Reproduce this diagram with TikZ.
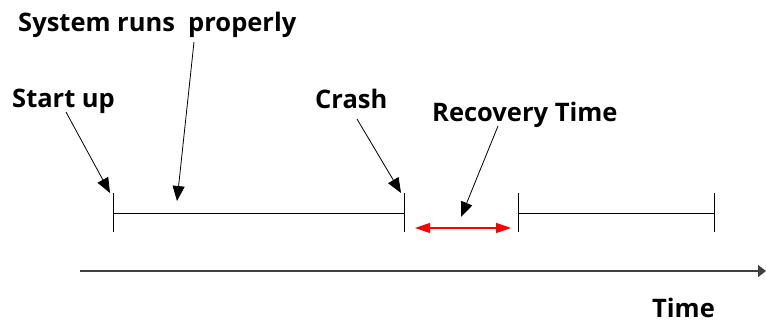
\documentclass[tikz,border=0pt]{standalone}
\usepackage{fontspec}
\setmainfont{Open Sans}
\usetikzlibrary{arrows.meta}
\begin{document}
\begin{tikzpicture}[x=1pt,y=-1pt,
  lbl/.style={font=\fontsize{25.5}{28}\selectfont\bfseries, inner sep=0pt},
  seg/.style={line width=1pt, black},
  ptr/.style={line width=0.8pt, -{Triangle[length=15pt,width=12pt]}},
  rec/.style={line width=1.2pt, red, {Triangle[length=15pt,width=10pt]}-{Triangle[length=15pt,width=10pt]}},
  axis/.style={line width=1.4pt, black!75, -{Triangle[length=8pt,width=12pt]}}]
\useasboundingbox (0,0) rectangle (766,322);
% labels
\node[lbl, anchor=base west] (sys) at (18,31) {System runs\ \ properly};
\node[lbl, anchor=base west] (start) at (12,107) {Start up};
\node[lbl, anchor=base west] (crash) at (315,108) {Crash};
\node[lbl, anchor=base west] (recov) at (432,121) {Recovery Time};
\node[lbl, anchor=base west] (time) at (652,317) {Time};
% tick coordinates
\coordinate (a1) at (113,193); \coordinate (a2) at (113,232); \coordinate (am) at (113,213);
\coordinate (b1) at (404,193); \coordinate (b2) at (404,232); \coordinate (bm) at (404,213);
\coordinate (c1) at (518,193); \coordinate (c2) at (518,232); \coordinate (cm) at (518,213);
\coordinate (d1) at (714,193); \coordinate (d2) at (714,232); \coordinate (dm) at (714,213);
% segments
\draw[seg] (a1) -- (a2); \draw[seg] (am) -- (bm); \draw[seg] (b1) -- (b2);
\draw[seg] (c1) -- (c2); \draw[seg] (cm) -- (dm); \draw[seg] (d1) -- (d2);
% recovery arrow
\coordinate (r1) at (415,228); \coordinate (r2) at (511,228);
\draw[rec] (r1) -- (r2);
% time axis
\coordinate (t1) at (80,271); \coordinate (t2) at (766,271);
\draw[axis] (t1) -- (t2);
% pointers
\coordinate (ps) at (66,112); \coordinate (pst) at (110,193);
\coordinate (pp) at (194,42); \coordinate (ppt) at (177,201);
\coordinate (pc) at (357,119); \coordinate (pct) at (401,193);
\coordinate (pr) at (498,126); \coordinate (prt) at (461,217);
\draw[ptr] (ps) -- (pst);
\draw[ptr] (pp) -- (ppt);
\draw[ptr] (pc) -- (pct);
\draw[ptr] (pr) -- (prt);
\end{tikzpicture}
\end{document}
